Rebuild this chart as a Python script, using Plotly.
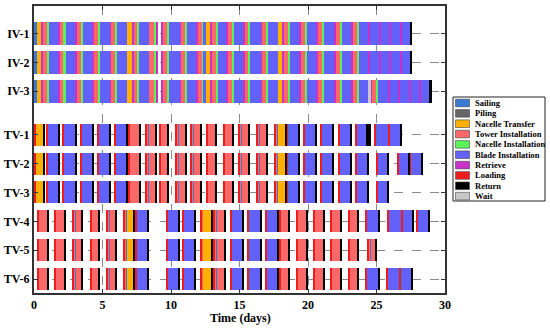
import plotly.graph_objects as go

# ---------------- data ----------------
ROW_LABELS = ["IV-1", "IV-2", "IV-3", "TV-1", "TV-2", "TV-3", "TV-4", "TV-5", "TV-6"]
ROW_POS = [8.5, 7.5, 6.5, 5, 4, 3, 2, 1, 0]

ACT_CODES = ["S", "P", "NT", "T", "NI", "B", "R", "L", "RT", "W"]
ACT_NAMES = ["Sailing", "Piling", "Nacelle Transfer", "Tower Installation",
             "Nacelle Installation", "Blade Installation", "Retrieve",
             "Loading", "Return", "Wait"]
ACT_COLORS = ["#3a7ad6", "#666666", "#ffb000", "#fa6868", "#5cf25c",
              "#6262fa", "#c832c8", "#ee1c1c", "#000000", "#c8c8c8"]

# how one block of each kind splits into activities (None = remainder)
BLOCK_PARTS = {
    "sail": [("S", None)],
    "nt": [("NT", None)],
    "ret": [("RT", None)],
    "wait": [("W", None)],
    "turb": [("R", 0.05), ("T", 0.31), ("NI", 0.16), ("B", None)],
    "tn": [("T", 0.36), ("NI", 0.17), ("R", None)],
    "blade": [("R", 0.07), ("B", None)],
    "b": [("L", 0.08), ("S", 0.05), ("B", None), ("RT", 0.08)],
    "b0": [("L", 0.08), ("S", 0.05), ("B", None)],
    "t": [("L", 0.08), ("T", 0.10), ("S", 0.04), ("T", None), ("RT", 0.08)],
    "ntA": [("L", 0.12), ("S", 0.05), ("NT", None), ("RT", 0.07)],
    "ntB": [("L", 0.08), ("T", 0.12), ("S", 0.04), ("NT", None), ("RT", 0.08)],
    "ntC": [("RT", 0.05), ("NT", None), ("RT", 0.05)],
}

# installation vessels (kind, start day, end day)
IV_PREFIX = [
    ("sail", 0.00, 0.24), ("nt", 0.24, 0.56),
    ("turb", 0.56, 1.78), ("turb", 1.78, 3.04), ("turb", 3.04, 4.28),
    ("turb", 4.28, 5.55), ("turb", 5.55, 6.81), ("nt", 6.81, 7.18),
    ("turb", 7.18, 8.42), ("tn", 8.42, 9.03),
    ("turb", 9.32, 10.66), ("turb", 10.66, 11.87), ("turb", 11.87, 12.53),
    ("nt", 12.53, 12.90), ("turb", 12.90, 14.06), ("turb", 14.06, 15.28),
    ("turb", 15.28, 16.57), ("turb", 16.57, 17.80), ("nt", 17.80, 18.17),
    ("turb", 18.17, 19.40), ("turb", 19.40, 20.65), ("turb", 20.65, 21.97),
    ("turb", 21.97, 23.20), ("turb", 23.20, 24.40),
]
IV1_TAIL = [("blade", 24.40, 25.20), ("blade", 25.20, 25.98), ("blade", 25.98, 26.72),
            ("blade", 26.72, 27.45), ("ret", 27.45, 27.58)]
IV2_TAIL = [("blade", 24.40, 25.20), ("blade", 25.20, 25.98), ("blade", 25.98, 26.72),
            ("blade", 26.72, 27.45), ("ret", 27.45, 27.58)]
IV3_TAIL = [("wait", 24.40, 24.60), ("turb", 24.60, 25.86), ("blade", 25.86, 26.62),
            ("blade", 26.62, 27.38), ("blade", 27.38, 28.12), ("blade", 28.12, 28.88),
            ("ret", 28.88, 29.02)]

# transport vessels
TV13_PREFIX = [
    ("ntA", 0.00, 0.75), ("b", 0.88, 1.85), ("b", 2.09, 3.08), ("b", 3.36, 4.33),
    ("b", 4.62, 5.62), ("b", 5.86, 6.86), ("t", 6.88, 7.80), ("t", 8.15, 8.92),
    ("t", 9.15, 9.85), ("t", 10.35, 11.14), ("t", 11.45, 12.22), ("t", 12.58, 13.33),
    ("t", 13.80, 14.55), ("t", 14.95, 15.77), ("t", 16.25, 17.02),
    ("ntB", 17.54, 18.42), ("b", 18.45, 19.40), ("b", 19.67, 20.63),
    ("b", 20.90, 21.90), ("b", 22.20, 23.15),
]
TV1_TAIL = [("b", 23.45, 24.35), ("ntC", 24.36, 24.56), ("b0", 24.88, 25.85),
            ("b", 25.88, 26.85)]
TV2_TAIL = [("b", 23.45, 24.45), ("b", 25.00, 25.85), ("b", 26.50, 27.40),
            ("b", 27.40, 28.40)]
TV3_TAIL = [("b", 23.45, 24.45), ("b", 25.00, 25.90)]

TV46_PREFIX = [
    ("t", 0.24, 1.05), ("t", 1.53, 2.30), ("t", 2.82, 3.58), ("t", 4.09, 4.82),
    ("t", 5.30, 6.06), ("ntB", 6.52, 7.35), ("b", 7.40, 8.35),
    ("b", 9.66, 10.62), ("b", 10.85, 11.82), ("ntB", 12.12, 13.06),
    ("t", 13.12, 14.00), ("b", 14.32, 15.30), ("b", 15.60, 16.58),
    ("b", 16.90, 17.88), ("t", 17.90, 18.68), ("t", 19.15, 19.95),
    ("t", 20.40, 21.20), ("t", 21.62, 22.45), ("t", 22.95, 23.70),
]
TV4_TAIL = [("b", 24.20, 25.25), ("b0", 25.80, 26.80), ("b", 26.80, 27.70),
            ("b", 27.90, 28.90)]
TV5_TAIL = [("t", 24.35, 25.00)]
TV6_TAIL = [("b", 24.20, 25.20), ("b0", 25.70, 26.70), ("b", 26.70, 27.62)]

ROW_BLOCKS = [
    IV_PREFIX + IV1_TAIL, IV_PREFIX + IV2_TAIL, IV_PREFIX + IV3_TAIL,
    TV13_PREFIX + TV1_TAIL, TV13_PREFIX + TV2_TAIL, TV13_PREFIX + TV3_TAIL,
    TV46_PREFIX + TV4_TAIL, TV46_PREFIX + TV5_TAIL, TV46_PREFIX + TV6_TAIL,
]
ROW_BAR_H = [0.80, 0.80, 0.80, 0.76, 0.76, 0.76, 0.76, 0.76, 0.76]

X_TICKS = [0, 5, 10, 15, 20, 25, 30]

# ---------------- expand blocks into activity segments ----------------
segs = {c: {"y": [], "base": [], "x": [], "w": []} for c in ACT_CODES}
for pos, h, blocks in zip(ROW_POS, ROW_BAR_H, ROW_BLOCKS):
    for kind, s, e in blocks:
        parts = BLOCK_PARTS[kind]
        fixed = sum(d for _, d in parts if d is not None)
        rem = max(e - s - fixed, 0.01)
        t = s
        for code, d in parts:
            dur = rem if d is None else d
            segs[code]["y"].append(pos)
            segs[code]["base"].append(t)
            segs[code]["x"].append(dur)
            segs[code]["w"].append(h)
            t += dur

fig = go.Figure()
for code, name, col in zip(ACT_CODES, ACT_NAMES, ACT_COLORS):
    d = segs[code]
    if not d["x"]:
        continue
    fig.add_trace(go.Bar(
        y=d["y"], x=d["x"], base=d["base"], width=d["w"], orientation="h",
        name=name, marker=dict(color=col, line=dict(width=0)), showlegend=False,
        hoverinfo="skip"))

FONT = "Liberation Serif"
L, R, T, B = 34, 445, 6, 293
W, H = 550, 328

fig.update_layout(
    width=W, height=H, barmode="overlay", bargap=0,
    margin=dict(l=L, r=W - R, t=T, b=H - B, pad=0, autoexpand=False),
    paper_bgcolor="white", plot_bgcolor="white",
    font=dict(family=FONT, color="black"),
    xaxis=dict(range=[0, 30], tickvals=X_TICKS, ticktext=[str(v) for v in X_TICKS],
               showgrid=True, gridcolor="#8a8a8a", griddash="dash", gridwidth=1,
               zeroline=False, showline=True, linecolor="#333", linewidth=2,
               mirror="allticks", ticks="inside", ticklen=4, tickcolor="#333",
               automargin=False,
               tickfont=dict(family=FONT, size=12, weight="bold")),
    yaxis=dict(range=[-0.48, 9.45], tickvals=ROW_POS, ticktext=ROW_LABELS,
               showgrid=True, gridcolor="#8a8a8a", griddash="dash", gridwidth=1,
               zeroline=False, showline=True, linecolor="#333", linewidth=2,
               mirror="allticks", ticks="inside", ticklen=4, tickcolor="#333",
               automargin=False,
               tickfont=dict(family=FONT, size=12, weight="bold")),
)

# manual legend and axis title (paper coords from pixel positions)
def px(xp):
    return (xp - L) / (R - L)

def py(yp):
    return (B - yp) / (B - T)

shapes = [dict(type="rect", xref="paper", yref="paper", x0=px(453), x1=px(545),
               y0=py(201), y1=py(97), line=dict(color="#222", width=1),
               fillcolor="white", layer="above")]
annotations = [dict(xref="paper", yref="paper", x=px(240), y=py(318),
                    xanchor="center", yanchor="middle", showarrow=False,
                    text="Time (days)", font=dict(family=FONT, size=12, weight="bold"))]
for i, (name, col) in enumerate(zip(ACT_NAMES, ACT_COLORS)):
    cy = 103 + i * 10.35
    shapes.append(dict(type="rect", xref="paper", yref="paper",
                       x0=px(455.5), x1=px(469.5), y0=py(cy + 3.8), y1=py(cy - 3.8),
                       line=dict(color="#444", width=0.6), fillcolor=col, layer="above"))
    annotations.append(dict(xref="paper", yref="paper", x=px(472.5), y=py(cy),
                            xanchor="left", yanchor="middle", showarrow=False,
                            text=name, font=dict(family=FONT, size=8.5, weight="bold")))
fig.update_layout(shapes=shapes, annotations=annotations)

fig.write_html("out.html", config={"displayModeBar": False},
               post_script="document.body.style.margin='0';")
